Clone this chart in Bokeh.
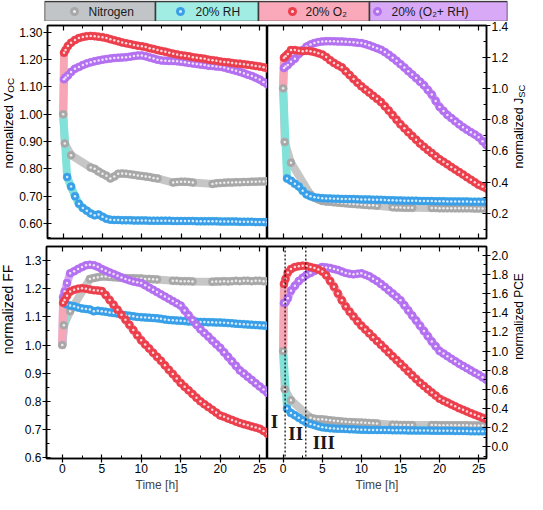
import math
from bokeh.plotting import figure
from bokeh.models import (Range1d, LinearAxis, SingleIntervalTicker, NumeralTickFormatter,
                          Label, Span, CustomLabelingPolicy)
from bokeh.layouts import column, row
from bokeh.embed import file_html
from bokeh.resources import INLINE
from bokeh.core.properties import value

# ---------------- data ----------------
T_OX = [0.1, 0.3, 0.6, 1.0, 1.5, 2.0, 2.5, 3.0, 3.5, 4.0, 4.5, 5.0, 5.5,
        6.0, 6.5, 7.0, 7.5, 8.0, 8.5, 9.0, 9.5, 10.0, 10.5,
        11.0, 11.5, 12.0, 12.5, 13.0, 13.5, 14.0, 14.5, 15.0, 15.5,
        16.0, 16.5, 17.0, 17.5, 18.0, 18.5, 19.0, 19.5, 20.0, 20.5,
        21.0, 21.5, 22.0, 22.5, 23.0, 23.5, 24.0, 24.5, 25.0, 25.5, 26.0]
T_RH = [0.5, 1.0, 1.5, 2.0, 2.5, 3.0, 3.5, 4.0, 4.5, 5.0, 5.5,
        6.0, 6.5, 7.0, 7.5, 8.0, 8.5, 9.0, 9.5, 10.0, 10.5,
        11.0, 11.5, 12.0, 12.5, 13.0, 13.5, 14.0, 14.5, 15.0, 15.5,
        16.0, 16.5, 17.0, 17.5, 18.0, 18.5, 19.0, 19.5, 20.0, 20.5,
        21.0, 21.5, 22.0, 22.5, 23.0, 23.5, 24.0, 24.5, 25.0, 25.5, 26.0]
T_N = [0.0, 0.2, 1.0,
       3.5, 4.0, 4.5, 5.0, 5.5, 6.0, 6.5, 7.0, 7.5, 8.0,
       8.5, 9.0, 9.5, 10.0, 10.5, 11.0, 11.5, 12.0,
       14.0, 14.5, 15.0, 15.5, 16.0, 16.5,
       19.0, 19.5, 20.0, 20.5, 21.0, 21.5, 22.0, 22.5, 23.0, 23.5, 24.0, 24.5, 25.0, 25.5, 26.0]
START = 1.0  # normalisation value at t = 0

VOC_O2 = [1.225, 1.235, 1.250,
          1.262, 1.272, 1.279, 1.283, 1.286, 1.287, 1.286, 1.284, 1.282, 1.279,
          1.275, 1.271, 1.267, 1.263, 1.260, 1.257, 1.254, 1.251, 1.249, 1.246,
          1.242, 1.239, 1.235, 1.232, 1.229, 1.225, 1.222, 1.219, 1.216, 1.214,
          1.212, 1.209, 1.207, 1.205, 1.203, 1.200, 1.198, 1.196, 1.193, 1.191,
          1.190, 1.188, 1.186, 1.185, 1.183, 1.181, 1.179, 1.177, 1.175, 1.172,
          1.168]
VOC_MIX = [1.128, 1.135, 1.142,
           1.155, 1.167, 1.173, 1.180, 1.186, 1.190, 1.194, 1.197, 1.200, 1.202,
           1.204, 1.206, 1.207, 1.208, 1.209, 1.211, 1.213, 1.215, 1.215, 1.212,
           1.208, 1.204, 1.200, 1.197, 1.196, 1.195, 1.195, 1.194, 1.192, 1.190,
           1.188, 1.186, 1.184, 1.182, 1.180, 1.178, 1.177, 1.175, 1.174, 1.171,
           1.167, 1.163, 1.159, 1.155, 1.150, 1.145, 1.140, 1.134, 1.127, 1.118,
           1.110]
VOC_RH = [0.770,
          0.735, 0.700, 0.672, 0.657, 0.647, 0.637, 0.630, 0.633, 0.625, 0.617,
          0.614, 0.613, 0.613, 0.612, 0.612, 0.612, 0.611, 0.611, 0.611, 0.611,
          0.610, 0.610, 0.610, 0.610, 0.610, 0.610, 0.609, 0.609, 0.609, 0.609,
          0.609, 0.609, 0.608, 0.608, 0.608, 0.608, 0.608, 0.608, 0.607, 0.607,
          0.607, 0.607, 0.607, 0.606, 0.606, 0.606, 0.606, 0.605, 0.605, 0.605,
          0.604]
VOC_N = [1.000, 0.893, 0.850,
         0.805, 0.800, 0.790, 0.782, 0.775, 0.765, 0.772, 0.782, 0.783, 0.782,
         0.780, 0.778, 0.776, 0.774, 0.772, 0.770, 0.767, 0.765,
         0.750, 0.752, 0.753, 0.753, 0.752, 0.750,
         0.745, 0.747, 0.748, 0.749, 0.750, 0.750, 0.751, 0.751, 0.752, 0.752,
         0.753, 0.753, 0.754, 0.754, 0.755]

JSC_O2 = [1.196, 1.205, 1.220,
          1.245, 1.245, 1.240, 1.238, 1.240, 1.238, 1.232, 1.225, 1.216, 1.200,
          1.180, 1.163, 1.148, 1.135, 1.110, 1.085, 1.060, 1.036, 1.013, 0.993,
          0.973, 0.953, 0.933, 0.913, 0.886, 0.858, 0.829, 0.800, 0.770, 0.745,
          0.720, 0.696, 0.672, 0.647, 0.626, 0.606, 0.586, 0.566, 0.546, 0.530,
          0.514, 0.497, 0.481, 0.465, 0.449, 0.432, 0.416, 0.400, 0.383, 0.372,
          0.360]
JSC_MIX = [1.130, 1.140, 1.150,
           1.170, 1.190, 1.220, 1.245, 1.267, 1.280, 1.290, 1.296, 1.300, 1.302,
           1.302, 1.301, 1.300, 1.300, 1.298, 1.297, 1.295, 1.292, 1.290, 1.283,
           1.275, 1.266, 1.256, 1.247, 1.232, 1.215, 1.196, 1.176, 1.155, 1.133,
           1.110, 1.088, 1.066, 1.043, 1.020, 0.990, 0.960, 0.920, 0.881, 0.856,
           0.830, 0.810, 0.790, 0.770, 0.752, 0.735, 0.720, 0.705, 0.688, 0.662,
           0.637]
JSC_RH = [0.424,
          0.410, 0.390, 0.373, 0.345, 0.322, 0.310, 0.303, 0.300, 0.298, 0.296,
          0.295, 0.294, 0.294, 0.293, 0.293, 0.292, 0.292, 0.291, 0.290, 0.290,
          0.289, 0.288, 0.288, 0.287, 0.286, 0.285, 0.284, 0.283, 0.283, 0.282,
          0.282, 0.281, 0.281, 0.280, 0.280, 0.279, 0.279, 0.278, 0.278, 0.278,
          0.277, 0.277, 0.277, 0.276, 0.276, 0.276, 0.275, 0.275, 0.275, 0.275,
          0.275]
JSC_N = [1.000, 0.657, 0.525,
         0.320, 0.300, 0.290, 0.280, 0.277, 0.275, 0.272, 0.270, 0.267, 0.265,
         0.263, 0.261, 0.259, 0.257, 0.255, 0.253, 0.252, 0.250,
         0.240, 0.239, 0.238, 0.237, 0.237, 0.236,
         0.235, 0.235, 0.234, 0.234, 0.234, 0.234, 0.233, 0.233, 0.233, 0.233,
         0.233, 0.232, 0.232, 0.232, 0.232]

FF_O2 = [1.150, 1.160, 1.175,
         1.190, 1.196, 1.200, 1.202, 1.200, 1.197, 1.195, 1.194, 1.192, 1.178,
         1.160, 1.143, 1.125, 1.108, 1.090, 1.072, 1.053, 1.035, 1.017, 1.002,
         0.988, 0.973, 0.958, 0.944, 0.928, 0.912, 0.897, 0.881, 0.865, 0.852,
         0.839, 0.826, 0.813, 0.800, 0.790, 0.780, 0.770, 0.760, 0.750, 0.745,
         0.739, 0.734, 0.728, 0.723, 0.719, 0.715, 0.711, 0.707, 0.703, 0.695,
         0.685]
FF_MIX = [1.170, 1.190, 1.220,
          1.255, 1.262, 1.270, 1.277, 1.283, 1.285, 1.283, 1.278, 1.270, 1.264,
          1.258, 1.252, 1.246, 1.240, 1.235, 1.230, 1.226, 1.223, 1.220, 1.212,
          1.204, 1.196, 1.188, 1.180, 1.172, 1.164, 1.156, 1.148, 1.140, 1.123,
          1.106, 1.089, 1.072, 1.056, 1.043, 1.030, 1.016, 1.003, 0.990, 0.974,
          0.958, 0.942, 0.926, 0.910, 0.899, 0.887, 0.876, 0.864, 0.853, 0.842,
          0.830]
FF_RH = [1.145,
         1.140, 1.138, 1.133, 1.130, 1.128, 1.126, 1.120, 1.122, 1.120, 1.118,
         1.116, 1.114, 1.112, 1.108, 1.106, 1.104, 1.102, 1.100, 1.099, 1.098,
         1.097, 1.096, 1.095, 1.093, 1.091, 1.089, 1.088, 1.087, 1.086, 1.085,
         1.084, 1.084, 1.083, 1.082, 1.082, 1.081, 1.081, 1.080, 1.080, 1.079,
         1.078, 1.077, 1.076, 1.075, 1.074, 1.073, 1.072, 1.071, 1.070, 1.069,
         1.068]
FF_N = [1.000, 1.070, 1.120,
        1.235, 1.238, 1.241, 1.243, 1.243, 1.242, 1.241, 1.240, 1.239, 1.238,
        1.237, 1.237, 1.236, 1.236, 1.235, 1.235, 1.234, 1.233,
        1.228, 1.228, 1.227, 1.227, 1.227, 1.226,
        1.225, 1.226, 1.226, 1.227, 1.226, 1.227, 1.228, 1.227, 1.228, 1.228,
        1.227, 1.228, 1.228, 1.227, 1.227]

PCE_O2 = [1.700, 1.750, 1.820,
          1.855, 1.875, 1.885, 1.890, 1.888, 1.875, 1.865, 1.850, 1.830, 1.790,
          1.730, 1.670, 1.600, 1.530, 1.465, 1.410, 1.360, 1.310, 1.265, 1.225,
          1.185, 1.145, 1.105, 1.066, 1.026, 0.986, 0.946, 0.907, 0.868, 0.828,
          0.788, 0.748, 0.709, 0.669, 0.636, 0.602, 0.569, 0.536, 0.503, 0.483,
          0.463, 0.443, 0.424, 0.404, 0.387, 0.370, 0.353, 0.337, 0.320, 0.305,
          0.290]
PCE_MIX = [1.500, 1.510, 1.550,
           1.630, 1.680, 1.730, 1.765, 1.795, 1.815, 1.835, 1.860, 1.877, 1.872,
           1.865, 1.855, 1.845, 1.830, 1.815, 1.805, 1.800, 1.805, 1.810, 1.795,
           1.780, 1.755, 1.730, 1.700, 1.668, 1.633, 1.600, 1.565, 1.530, 1.477,
           1.424, 1.370, 1.318, 1.265, 1.210, 1.155, 1.100, 1.050, 1.000, 0.974,
           0.947, 0.920, 0.894, 0.868, 0.845, 0.822, 0.798, 0.775, 0.752, 0.726,
           0.700]
PCE_RH = [0.400,
          0.354, 0.330, 0.305, 0.280, 0.255, 0.240, 0.228, 0.215, 0.205, 0.200,
          0.196, 0.193, 0.191, 0.190, 0.188, 0.186, 0.184, 0.182, 0.180, 0.179,
          0.178, 0.178, 0.177, 0.177, 0.176, 0.176, 0.175, 0.175, 0.174, 0.174,
          0.173, 0.173, 0.172, 0.172, 0.171, 0.171, 0.170, 0.170, 0.169, 0.169,
          0.168, 0.168, 0.167, 0.167, 0.166, 0.166, 0.165, 0.165, 0.164, 0.164,
          0.163]
PCE_N = [1.000, 0.603, 0.487,
         0.305, 0.295, 0.290, 0.288, 0.283, 0.278, 0.274, 0.270, 0.265, 0.262,
         0.260, 0.258, 0.256, 0.254, 0.252, 0.250, 0.248, 0.245,
         0.232, 0.231, 0.230, 0.230, 0.229, 0.228,
         0.228, 0.228, 0.227, 0.227, 0.227, 0.227, 0.226, 0.226, 0.226, 0.226,
         0.225, 0.225, 0.225, 0.225, 0.225]

LEGEND_LABELS = ["Nitrogen", "20% RH", "20% O\u2082", "20% (O\u2082+ RH)"]
REGION_BOUNDS = [0.25, 2.9]
ROMAN = ["I", "II", "III"]
ROMAN_T = [-1.1, 1.6, 5.2]
ROMAN_Y = [0.27, 0.14, 0.05]

# ---------------- style / layout ----------------
FONT = "Liberation Sans"
BALL = ["#a8a8a8", "#3a9fe9", "#ec3f4c", "#b370f0"]      # N, RH, O2, MIX
TREND = ["#c6c6c6", "#80e2d8", "#f6a6b4", "#daa8f4"]
BOX = ["#c2c5c8", "#a2ede3", "#f9a9b9", "#d8a9f7"]
BOX_W = [111, 103, 111, 138]
BALL_DX = [30, 25, 34, 8]
TEXT_DX = [44, 40, 47, 22]

TOTAL_W = 527
STRIP_L, STRIP_R = 16, 16
FRAME_W_L, FRAME_W_R = 221, 222
BORDER_L = 30
BORDER_R = TOTAL_W - STRIP_L - BORDER_L - FRAME_W_L - FRAME_W_R - STRIP_R
FRAME_H = 221
BOTTOM_B = 31
LEG_H = 21

NO_LABELS = "for (const i of indices) indices.unset(i)"


def style_axis(ax, show_labels, size="12px"):
    ax.axis_line_width = 1.5
    ax.axis_line_color = "black"
    ax.major_tick_line_color = "black"
    ax.minor_tick_line_color = "black"
    ax.major_tick_line_width = 1.2
    ax.minor_tick_line_width = 1.0
    ax.minor_tick_in = 3
    ax.minor_tick_out = 0
    if show_labels:
        ax.major_tick_in = 4
        ax.major_tick_out = 4
        ax.major_label_standoff = 1
        ax.major_label_text_font = FONT
        ax.major_label_text_font_size = size
        ax.major_label_text_color = "black"
    else:
        ax.major_tick_in = 5
        ax.major_tick_out = 0
        ax.major_label_standoff = 0
        ax.major_label_text_font_size = "1px"
        ax.major_label_policy = CustomLabelingPolicy(code=NO_LABELS)


def panel(side, top, y_range, y_int, fmt, series):
    left = side == "left"
    w = BORDER_L + FRAME_W_L if left else FRAME_W_R + BORDER_R
    h = FRAME_H if top else FRAME_H + BOTTOM_B
    p = figure(width=w, height=h, x_range=Range1d(-2, 26), y_range=Range1d(*y_range),
               output_backend="svg", toolbar_location=None,
               y_axis_location=side, x_axis_location="below",
               min_border_left=BORDER_L if left else 0,
               min_border_right=0 if left else BORDER_R,
               min_border_top=0, min_border_bottom=0 if top else BOTTOM_B)
    p.grid.visible = False
    p.outline_line_color = "black"
    p.outline_line_width = 1.5
    p.background_fill_color = "white"
    p.border_fill_color = "white"

    xa = p.xaxis[0]
    xa.ticker = SingleIntervalTicker(interval=5, num_minor_ticks=2)
    style_axis(xa, not top, "12px")
    if not top:
        xa.axis_label = "Time [h]"
        xa.axis_label_text_font = FONT
        xa.axis_label_text_font_size = "12px"
        xa.axis_label_text_font_style = "normal"
        xa.axis_label_standoff = 2
    above = LinearAxis(ticker=SingleIntervalTicker(interval=5, num_minor_ticks=2))
    style_axis(above, False)
    p.add_layout(above, "above")

    ya = p.yaxis[0]
    ya.ticker = SingleIntervalTicker(interval=y_int, num_minor_ticks=2)
    ya.formatter = NumeralTickFormatter(format=fmt)
    style_axis(ya, True, "12px")

    for t, v, k in series:
        p.line([0.0] + t, [START] + v, line_width=8, line_color=TREND[k],
               line_cap="round", line_join="round")
    for t, v, k in series:
        p.scatter(t, v, size=8, fill_color=BALL[k], line_color=BALL[k], line_width=0.5)
        p.scatter(t, v, size=2.5, fill_color="white", line_color=None, fill_alpha=0.8)
    return p


CHAR_W = {"n": 556, "o": 556, "r": 333, "m": 833, "a": 556, "l": 222, "i": 222, "z": 500,
          "e": 556, "d": 556, " ": 278, "V": 667, "J": 500, "O": 778, "C": 722, "S": 667,
          "F": 611, "P": 667, "E": 667}


def width_estimate(txt, fs):
    return sum(CHAR_W.get(c, 556) for c in txt) * fs / 1000.0


def strip(width, height, parts, size, y, centered=False):
    """Narrow label strip beside a panel, holding its rotated axis title."""
    s = figure(width=width, height=height, x_range=Range1d(0, 1), y_range=Range1d(0, 1),
               output_backend="svg", toolbar_location=None,
               x_axis_location=None, y_axis_location=None,
               min_border_left=0, min_border_right=0, min_border_top=0, min_border_bottom=0)
    s.grid.visible = False
    s.outline_line_color = None
    s.border_fill_color = "white"
    s.background_fill_color = "white"
    xc = width / 2.0 - 0.5
    pos = y
    for txt, sub in parts:
        fs = size * (0.75 if sub else 1.0)
        s.add_layout(Label(x=xc + (2 if sub else 0), y=pos, x_units="screen", y_units="screen",
                           text=txt, angle=math.pi / 2,
                           text_align="center" if centered else "left",
                           text_baseline="middle", text_font=FONT,
                           text_font_size=f"{fs:.1f}px", text_color="black"))
        pos += width_estimate(txt, fs)
    return s


N_, RH_, O2_, MIX_ = 0, 1, 2, 3

tl = panel("left", True, (0.545, 1.325), 0.1, "0.00",
           [(T_N, VOC_N, N_), (T_RH, VOC_RH, RH_), (T_OX, VOC_MIX, MIX_), (T_OX, VOC_O2, O2_)])
tr = panel("right", True, (0.04, 1.402), 0.2, "0.0",
           [(T_N, JSC_N, N_), (T_RH, JSC_RH, RH_), (T_OX, JSC_MIX, MIX_), (T_OX, JSC_O2, O2_)])
bl = panel("left", False, (0.597, 1.35), 0.1, "0.0",
           [(T_N, FF_N, N_), (T_RH, FF_RH, RH_), (T_OX, FF_MIX, MIX_), (T_OX, FF_O2, O2_)])
br = panel("right", False, (-0.12, 2.09), 0.2, "0.0",
           [(T_N, PCE_N, N_), (T_RH, PCE_RH, RH_), (T_OX, PCE_MIX, MIX_), (T_OX, PCE_O2, O2_)])

s_tl = strip(STRIP_L, FRAME_H, [("normalized V", False), ("OC", True)], 13, 70)
s_tr = strip(STRIP_R, FRAME_H, [("normalized J", False), ("SC", True)], 12.5, 70)
s_bl = strip(STRIP_L, FRAME_H + BOTTOM_B, [("normalized FF", False)], 14, BOTTOM_B + 118, True)
s_br = strip(STRIP_R, FRAME_H + BOTTOM_B, [("normalized PCE", False)], 12, BOTTOM_B + 111, True)

for loc in REGION_BOUNDS:
    br.add_layout(Span(location=loc, dimension="height", line_color="black",
                       line_dash="2 2", line_width=1.2))
br.text(x=ROMAN_T, y=ROMAN_Y, text=ROMAN, text_font=value("Liberation Serif"),
        text_font_style="bold", text_font_size="19px", text_align="center",
        text_baseline="middle", text_color="#1a1a1a")

# ---------------- legend bar ----------------
edges = [0]
for bw in BOX_W:
    edges.append(edges[-1] + bw)
leg_left = STRIP_L + BORDER_L - 2
leg = figure(width=TOTAL_W, height=LEG_H,
             x_range=Range1d(0, edges[-1]), y_range=Range1d(0, 1.05),
             output_backend="svg", toolbar_location=None,
             x_axis_location=None, y_axis_location=None,
             min_border_left=leg_left, min_border_right=TOTAL_W - leg_left - edges[-1],
             min_border_top=0, min_border_bottom=0)
leg.grid.visible = False
leg.outline_line_color = None
leg.border_fill_color = "white"
leg.quad(left=edges[:-1], right=edges[1:], bottom=0, top=1, fill_color=BOX,
         line_color="#3a3a3a", line_width=1.5)
bx = [edges[i] + BALL_DX[i] for i in range(4)]
tx = [edges[i] + TEXT_DX[i] for i in range(4)]
leg.scatter(bx, [0.5] * 4, size=9, fill_color=BALL, line_color=None)
leg.scatter(bx, [0.5] * 4, size=3, fill_color="white", line_color=None, fill_alpha=0.8)
leg.text(x=tx, y=[0.5] * 4, text=LEGEND_LABELS, text_font=value(FONT),
         text_font_size="12px", text_align="left", text_baseline="middle",
         text_color="#1a1a1a")

layout = column(leg, row(s_tl, tl, tr, s_tr), row(s_bl, bl, br, s_br))
open("out.html", "w").write(file_html(layout, INLINE))
